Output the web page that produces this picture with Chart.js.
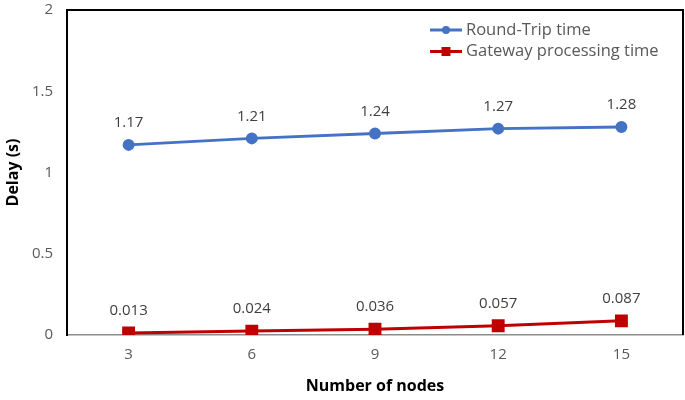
<!DOCTYPE html>
<html><head><meta charset="utf-8">
<script src="https://cdn.jsdelivr.net/npm/chart.js@4"></script>
<style>html,body{margin:0;padding:0;background:#fff}#wrap{width:685px;height:400px}</style>
</head><body><div id="wrap"><canvas id="c" width="685" height="400"></canvas></div>
<script>
const categories = ['3','6','9','12','15'];
const roundTrip = [1.17, 1.21, 1.24, 1.27, 1.28];
const roundTripLabels = ['1.17','1.21','1.24','1.27','1.28'];
const gateway = [0.013, 0.024, 0.036, 0.057, 0.087];
const gatewayLabels = ['0.013','0.024','0.036','0.057','0.087'];
const seriesNames = ['Round-Trip time', 'Gateway processing time'];
const yTicks = [0, 0.5, 1, 1.5, 2];

const FONT = "'Open Sans', 'Liberation Sans', sans-serif";
const AREA_RIGHT = 683;

const areaPlugin = {
  id: 'areaFix',
  afterLayout(chart) {
    const x = chart.scales.x;
    if (x.right < AREA_RIGHT) {
      x.right = AREA_RIGHT;
      x.width = x.right - x.left;
      x.configure();
      chart.chartArea.right = AREA_RIGHT;
      chart.chartArea.width = AREA_RIGHT - chart.chartArea.left;
    }
  }
};

const labelPlugin = {
  id: 'dataLabels',
  afterDatasetsDraw(chart) {
    const ctx = chart.ctx;
    ctx.save();
    ctx.font = "15px " + FONT;
    ctx.fillStyle = '#404040';
    ctx.textAlign = 'center';
    ctx.textBaseline = 'middle';
    chart.data.datasets.forEach((ds, i) => {
      const meta = chart.getDatasetMeta(i);
      meta.data.forEach((pt, j) => {
        ctx.fillText(ds.valueLabels[j], pt.x, pt.y - 22);
      });
    });
    ctx.restore();
  }
};

const framePlugin = {
  id: 'frame',
  afterDraw(chart) {
    const a = chart.chartArea, ctx = chart.ctx;
    ctx.save();
    ctx.strokeStyle = '#000';
    ctx.lineWidth = 2;
    ctx.beginPath();
    ctx.moveTo(a.left, a.bottom);
    ctx.lineTo(a.left, a.top);
    ctx.lineTo(a.right, a.top);
    ctx.lineTo(a.right, a.bottom);
    ctx.stroke();
    // legend
    const items = chart.data.datasets;
    ctx.font = "16.5px " + FONT;
    ctx.textBaseline = 'middle';
    ctx.textAlign = 'left';
    items.forEach((ds, i) => {
      const y = 30 + i * 21.5;
      const x0 = 430, x1 = 462;
      ctx.strokeStyle = ds.borderColor;
      ctx.lineWidth = 3;
      ctx.beginPath(); ctx.moveTo(x0, y); ctx.lineTo(x1, y); ctx.stroke();
      ctx.fillStyle = ds.borderColor;
      if (ds.pointStyle === 'rect') {
        ctx.fillRect((x0 + x1) / 2 - 4.5, y - 4.5, 9, 9);
      } else {
        ctx.beginPath(); ctx.arc((x0 + x1) / 2, y, 4, 0, Math.PI * 2); ctx.fill();
      }
      ctx.fillStyle = '#595959';
      ctx.fillText(ds.label, 466, y);
    });
    ctx.restore();
  }
};

new Chart(document.getElementById('c'), {
  type: 'line',
  data: {
    labels: categories,
    datasets: [
      { label: seriesNames[0], data: roundTrip, valueLabels: roundTripLabels,
        borderColor: '#4472C4', backgroundColor: '#4472C4', borderWidth: 3,
        pointStyle: 'circle', pointRadius: 4.5, pointHoverRadius: 4.5, tension: 0 },
      { label: seriesNames[1], data: gateway, valueLabels: gatewayLabels,
        borderColor: '#C00000', backgroundColor: '#C00000', borderWidth: 3,
        pointStyle: 'rect', pointRadius: 7, pointHoverRadius: 7, tension: 0 }
    ]
  },
  options: {
    responsive: false,
    animation: false,
    layout: { padding: { top: 10, right: 2, left: 0, bottom: 0 } },
    plugins: { legend: { display: false }, tooltip: { enabled: false } },
    scales: {
      x: {
        offset: true,
        grid: { display: false, drawTicks: false },
        border: { color: '#8c8c8c', width: 1.5 },
        ticks: { color: '#595959', font: { family: FONT, size: 15 }, padding: 11 },
        title: { display: true, text: 'Number of nodes', color: '#000',
                 font: { family: FONT, size: 16, weight: 'bold' }, padding: { top: 4 } },
        afterFit(s) { s.height = 65; s.paddingLeft = 0; s.paddingRight = 0; }
      },
      y: {
        min: 0, max: 2,
        afterBuildTicks(s) { s.ticks = yTicks.map(v => ({ value: v })); },
        grid: { display: false, drawTicks: false },
        border: { color: '#000', width: 2 },
        ticks: { color: '#595959', font: { family: FONT, size: 15 }, padding: 14,
                 callback: v => String(v) },
        title: { display: true, text: 'Delay (s)', color: '#000',
                 font: { family: FONT, size: 16, weight: 'bold' }, padding: { bottom: 6 } },
        afterFit(s) { s.width = 67; s.paddingTop = 0; s.paddingBottom = 0; }
      }
    }
  },
  plugins: [areaPlugin, labelPlugin, framePlugin]
});
</script>
</body></html>
